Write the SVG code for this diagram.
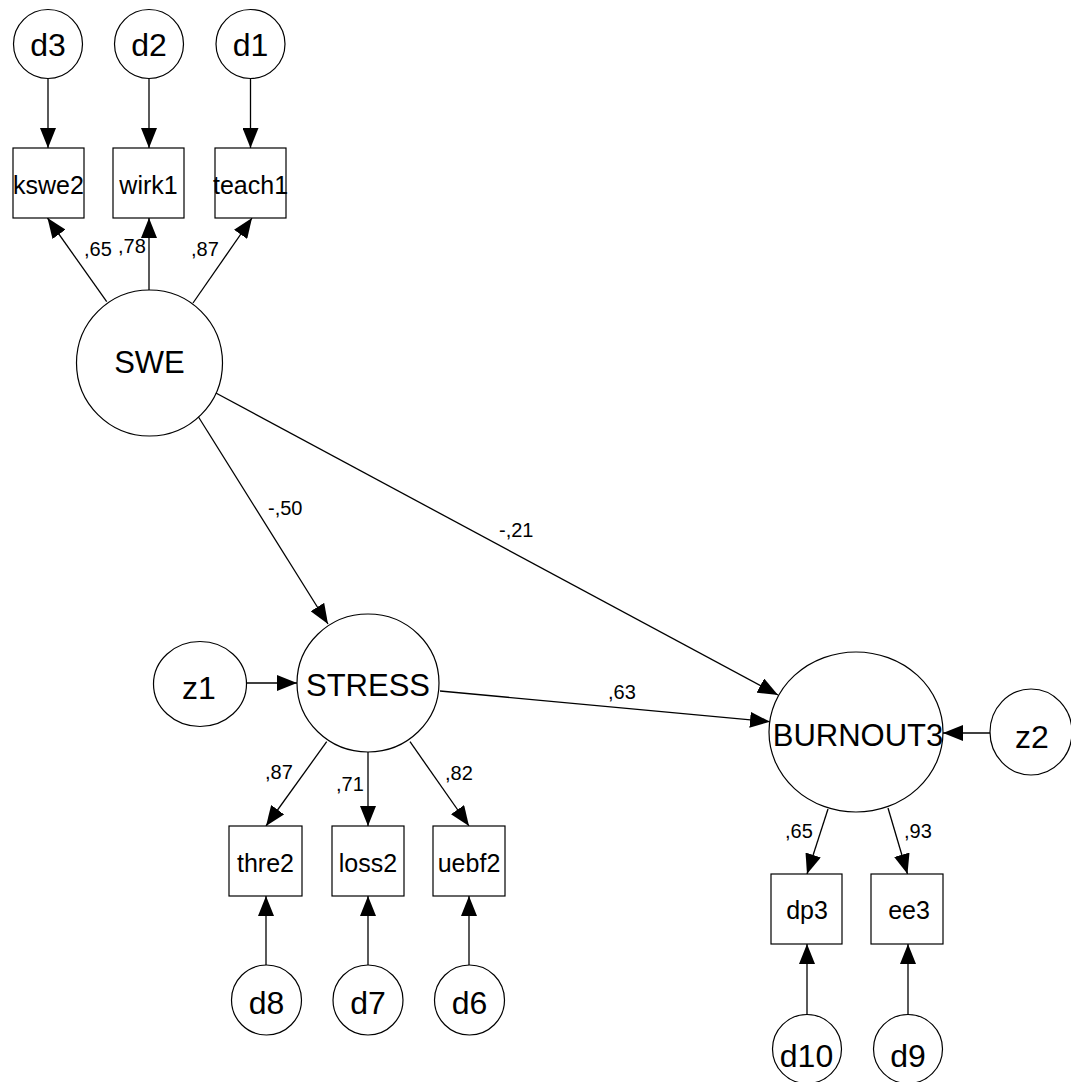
<svg xmlns="http://www.w3.org/2000/svg" width="1071" height="1082" viewBox="0 0 1071 1082">
  <style>
    .shape { fill: #ffffff; stroke: #000000; stroke-width: 1.2; }
    .edge { stroke: #000000; stroke-width: 1.3; fill: none; marker-end: url(#head); }
    text { font-family: "Liberation Sans", Arial, sans-serif; fill: #000000; }
    .lat { font-size: 31px; text-anchor: middle; }
    .err { font-size: 32px; text-anchor: middle; }
    .obs { font-size: 25px; text-anchor: middle; }
    .coef { font-size: 20px; }
  </style>
  <defs>
    <marker id="head" markerUnits="userSpaceOnUse" markerWidth="20" markerHeight="16" refX="20" refY="8" orient="auto">
      <path d="M0,0 L20,8 L0,16 Z" fill="#000000"/>
    </marker>
  </defs>
  <rect width="1071" height="1082" fill="#ffffff"/>

  <!-- paths and loadings -->
  <g id="connectors">
    <line class="edge" x1="48" y1="79" x2="48" y2="148"/>
    <line class="edge" x1="149" y1="79" x2="149" y2="148"/>
    <line class="edge" x1="250.5" y1="79" x2="250.5" y2="148"/>
    <line class="edge" x1="106.7" y1="301.7" x2="47.5" y2="218"/>
    <line class="edge" x1="149" y1="290" x2="149" y2="218"/>
    <line class="edge" x1="193" y1="303" x2="252" y2="218"/>
    <line class="edge" x1="196" y1="413" x2="328" y2="624"/>
    <line class="edge" x1="214" y1="392" x2="778" y2="695"/>
    <line class="edge" x1="247" y1="683" x2="297" y2="683"/>
    <line class="edge" x1="440" y1="691" x2="770" y2="721.7"/>
    <line class="edge" x1="990" y1="733" x2="943" y2="733"/>
    <line class="edge" x1="326.7" y1="741.7" x2="266" y2="826"/>
    <line class="edge" x1="368" y1="752" x2="368" y2="826"/>
    <line class="edge" x1="410" y1="741.7" x2="469" y2="826"/>
    <line class="edge" x1="266" y1="965" x2="266" y2="896"/>
    <line class="edge" x1="368" y1="965" x2="368" y2="896"/>
    <line class="edge" x1="469" y1="965" x2="469" y2="896"/>
    <line class="edge" x1="828" y1="809" x2="807" y2="874"/>
    <line class="edge" x1="888" y1="808" x2="907.5" y2="874"/>
    <line class="edge" x1="807" y1="1015" x2="807" y2="944"/>
    <line class="edge" x1="908" y1="1015" x2="908" y2="944"/>

    <text class="coef" x="84" y="256">,65</text>
    <text class="coef" x="118" y="253">,78</text>
    <text class="coef" x="191" y="256">,87</text>
    <text class="coef" x="268" y="515">-,50</text>
    <text class="coef" x="499" y="537">-,21</text>
    <text class="coef" x="608" y="699">,63</text>
    <text class="coef" x="265" y="779">,87</text>
    <text class="coef" x="336" y="791">,71</text>
    <text class="coef" x="445" y="780">,82</text>
    <text class="coef" x="785" y="838">,65</text>
    <text class="coef" x="904" y="838">,93</text>
  </g>

  <!-- error terms -->
  <g id="d3"><circle class="shape" cx="48" cy="44" r="34.5"/><text class="err" x="48" y="56">d3</text></g>
  <g id="d2"><circle class="shape" cx="149" cy="44" r="34.5"/><text class="err" x="149" y="56">d2</text></g>
  <g id="d1"><circle class="shape" cx="250.5" cy="44" r="34.5"/><text class="err" x="250.5" y="56">d1</text></g>

  <!-- SWE indicators -->
  <g id="kswe2"><rect class="shape" x="13" y="148" width="71" height="70"/><text class="obs" x="48.5" y="194">kswe2</text></g>
  <g id="wirk1"><rect class="shape" x="113" y="148" width="71" height="70"/><text class="obs" x="148.5" y="194">wirk1</text></g>
  <g id="teach1"><rect class="shape" x="215" y="148" width="71" height="70"/><text class="obs" x="250.5" y="194">teach1</text></g>

  <!-- latent variables -->
  <g id="SWE"><circle class="shape" cx="149.5" cy="363" r="73"/><text class="lat" x="149.5" y="373">SWE</text></g>
  <g id="STRESS"><ellipse class="shape" cx="368" cy="683" rx="71" ry="69"/><text class="lat" x="368" y="696">STRESS</text></g>
  <g id="BURNOUT3"><ellipse class="shape" cx="856" cy="732" rx="87" ry="80"/><text class="lat" x="858" y="746">BURNOUT3</text></g>

  <!-- disturbances -->
  <g id="z1"><ellipse class="shape" cx="200" cy="684" rx="46.5" ry="42.5"/><text class="err" x="199" y="699">z1</text></g>
  <g id="z2"><ellipse class="shape" cx="1031" cy="732" rx="41" ry="43"/><text class="err" x="1032" y="748">z2</text></g>

  <!-- STRESS indicators -->
  <g id="thre2"><rect class="shape" x="229" y="826" width="73" height="70"/><text class="obs" x="265.5" y="872">thre2</text></g>
  <g id="loss2"><rect class="shape" x="332" y="826" width="72" height="70"/><text class="obs" x="368" y="872">loss2</text></g>
  <g id="uebf2"><rect class="shape" x="433" y="826" width="72" height="70"/><text class="obs" x="469" y="872">uebf2</text></g>

  <g id="d8"><circle class="shape" cx="266.5" cy="1000" r="35"/><text class="err" x="266.5" y="1014">d8</text></g>
  <g id="d7"><circle class="shape" cx="368" cy="1000" r="35"/><text class="err" x="368" y="1014">d7</text></g>
  <g id="d6"><circle class="shape" cx="469.5" cy="1000" r="35"/><text class="err" x="469.5" y="1014">d6</text></g>

  <!-- BURNOUT3 indicators -->
  <g id="dp3"><rect class="shape" x="771" y="874" width="71" height="70"/><text class="obs" x="807" y="919">dp3</text></g>
  <g id="ee3"><rect class="shape" x="871" y="874" width="72" height="70"/><text class="obs" x="909" y="919">ee3</text></g>

  <g id="d10"><circle class="shape" cx="807" cy="1049" r="34.5"/><text class="err" x="806.5" y="1067">d10</text></g>
  <g id="d9"><circle class="shape" cx="908" cy="1049" r="34.5"/><text class="err" x="908" y="1067">d9</text></g>
</svg>
